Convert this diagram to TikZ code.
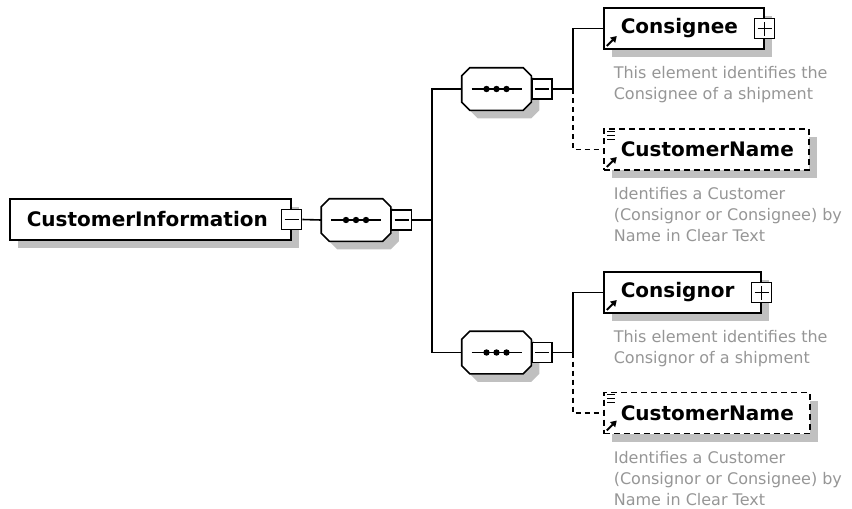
\documentclass[tikz,border=0pt]{standalone}
\usepackage{fontspec}
\setmainfont{DejaVu Sans}
\usetikzlibrary{arrows.meta,shadows}

\definecolor{shadowgray}{RGB}{192,192,192}
\definecolor{descgray}{RGB}{150,150,150}
\newcommand{\namefont}{\bfseries\fontsize{20}{24}\selectfont}
\newcommand{\descfont}{\fontsize{16}{21}\selectfont}

\begin{document}
\begin{tikzpicture}[x=1pt,y=-1pt,line width=1.6pt,
  boxshadow/.style={general shadow={fill=shadowgray,shadow xshift=8pt,shadow yshift=-8pt}},
  elem/.style={draw,fill=white,boxshadow,minimum height=41pt,text width=#1,
    inner xsep=0pt,inner ysep=0pt,align=left,font=\namefont,
    execute at begin node={\hspace*{17pt}}},
  refelem/.style={elem=#1,
    path picture={\draw[solid,line width=2pt,-{Triangle[length=6pt,width=7pt]}]
      ([shift={(3pt,3pt)}]path picture bounding box.south west) -- ++(10pt,10pt);}},
  optelem/.style={refelem=#1,dash pattern=on 6pt off 4pt},
  togm/.style={draw,solid,fill=white,minimum size=20pt,inner sep=0pt,
    path picture={\draw[line width=1.4pt]
      ([xshift=3pt]path picture bounding box.west) -- ([xshift=-3pt]path picture bounding box.east);}},
  togp/.style={togm,
    path picture={\draw[line width=1.4pt]
      ([xshift=3pt]path picture bounding box.west) -- ([xshift=-3pt]path picture bounding box.east)
      ([yshift=3pt]path picture bounding box.south) -- ([yshift=-3pt]path picture bounding box.north);}},
  seq/.style={minimum width=68pt,minimum height=41pt,inner sep=0pt},
  desc/.style={anchor=north west,inner sep=0pt,align=left,font=\descfont,text=descgray},
  optline/.style={dash pattern=on 5pt off 4pt}]

\useasboundingbox (0,0) rectangle (852,509);

% elements
\node[elem=281pt,anchor=west] (ci) at (9,219.5) {CustomerInformation};
\node[togm] (ci-tog) at (ci.east) {};

\node[seq] (seq0) at (356,220) {};
\node[seq] (seq1) at (496.5,89) {};
\node[seq] (seq2) at (496.5,352.5) {};
% sequence octagons
\foreach \s in {seq0,seq1,seq2} {
  \draw[fill=white,boxshadow] ([xshift=8pt]\s.north west) -- ([xshift=-8pt]\s.north east)
    -- ([yshift=-8pt]\s.north east) -- ([yshift=8pt]\s.south east)
    -- ([xshift=-8pt]\s.south east) -- ([xshift=8pt]\s.south west)
    -- ([yshift=8pt]\s.south west) -- ([yshift=-8pt]\s.north west) -- cycle;
  \draw[line width=1.4pt] ([xshift=-25pt]\s.center) -- ([xshift=25pt]\s.center);
  \foreach \dx in {-10,0,10}
    \fill ([xshift=\dx pt]\s.center) circle (3.2pt);
}
\node[togm,anchor=west] (seq0-tog) at (seq0.east) {};
\node[togm,anchor=west] (seq1-tog) at (seq1.east) {};
\node[togm,anchor=west] (seq2-tog) at (seq2.east) {};

\node[refelem=160pt,anchor=west] (consignee) at (603,28.5) {Consignee};
\node[togp] (consignee-tog) at (consignee.east) {};
\node[optelem=205pt,anchor=west] (cname1) at (603,149.5) {CustomerName};
\node[refelem=157pt,anchor=west] (consignor) at (603,292.5) {Consignor};
\node[togp] (consignor-tog) at (consignor.east) {};
\node[optelem=206pt,anchor=west] (cname2) at (603,413) {CustomerName};

\foreach \n in {cname1,cname2}
  \foreach \d in {3,7,11}
    \draw[line width=1.2pt] ([shift={(4pt,-\d pt)}]\n.north west) -- ++(8pt,0pt);

% descriptions
\node[desc] (consignee-doc) at ([shift={(10pt,-16pt)}]consignee.south west)
  {This element identifies the\\Consignee of a shipment};
\node[desc] (cname1-doc) at ([shift={(10pt,-16pt)}]cname1.south west)
  {Identifies a Customer\\(Consignor or Consignee) by\\Name in Clear Text};
\node[desc] (consignor-doc) at ([shift={(10pt,-16pt)}]consignor.south west)
  {This element identifies the\\Consignor of a shipment};
\node[desc] (cname2-doc) at ([shift={(10pt,-16pt)}]cname2.south west)
  {Identifies a Customer\\(Consignor or Consignee) by\\Name in Clear Text};

% connectors
\coordinate (fork0) at (432,220);
\coordinate (fork1) at (573,89);
\coordinate (fork2) at (573,352.5);
\draw (ci-tog.east) -- (seq0.west);
\draw (seq0-tog.east) -- (fork0);
\draw (seq1.west) -| (fork0) |- (seq2.west);
\draw (seq1-tog.east) -- (fork1);
\draw (consignee.west) -| (fork1);
\draw[optline] (fork1) |- (cname1.west);
\draw (seq2-tog.east) -- (fork2);
\draw (consignor.west) -| (fork2);
\draw[optline] (fork2) |- (cname2.west);

\end{tikzpicture}
\end{document}
